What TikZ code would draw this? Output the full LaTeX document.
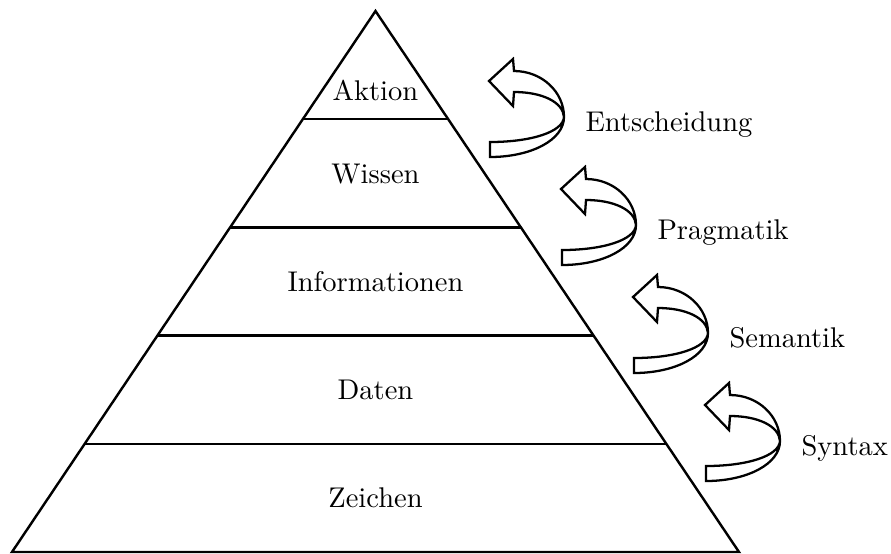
\documentclass[tikz,border=0pt]{standalone}
\usetikzlibrary{calc}
\begin{document}
\begin{tikzpicture}[x=0.3509pt,y=-0.3509pt,
  edge/.style={line width=0.85pt, line join=miter},
  layer/.style={anchor=base, font=\normalsize},
  side/.style={anchor=base west, inner sep=0pt, font=\normalsize},
  turn/.style={draw, fill=white, line width=0.8pt, line join=miter},
  pics/turnarrow/.style={code={
    \path[turn] (0,75) .. controls (41,75) and (74,58) .. (74,35)
      .. controls (74,10) and (52,-11) .. (24,-11) -- (23,-23) -- (-1,-1) -- (23,24) -- (24,10)
      .. controls (52,10) and (73,20) .. (74,35)
      .. controls (73,50) and (41,60) .. (0,60) -- cycle;
  }}]
\useasboundingbox (0,0) rectangle (891,553);

% pyramid outline
\coordinate (apex) at (375.5,11);
\coordinate (bl) at (12,552);
\coordinate (br) at (739,552);
\draw[edge] (bl) -- (apex) -- (br) -- cycle;

% layer separators
\foreach \t in {0.2,0.4,0.6,0.8}
  \draw[edge] ($(apex)!\t!(bl)$) -- ($(apex)!\t!(br)$);

% layer names
\node[layer] (aktion) at (375.5,100) {Aktion};
\node[layer] (wissen) at (375.5,183) {Wissen};
\node[layer] (info)   at (375.5,291) {Informationen};
\node[layer] (daten)  at (375.5,399) {Daten};
\node[layer] (zeichen) at (375.5,507) {Zeichen};

% transitions between layers
\pic at (490,82)  {turnarrow};
\pic at (562,190) {turnarrow};
\pic at (634,298) {turnarrow};
\pic at (706,406) {turnarrow};

\node[side] (entsch) at (585,131) {Entscheidung};
\node[side] (pragm)  at (657,239) {Pragmatik};
\node[side] (seman)  at (729,347) {Semantik};
\node[side] (synt)   at (801,455) {Syntax};
\end{tikzpicture}
\end{document}
